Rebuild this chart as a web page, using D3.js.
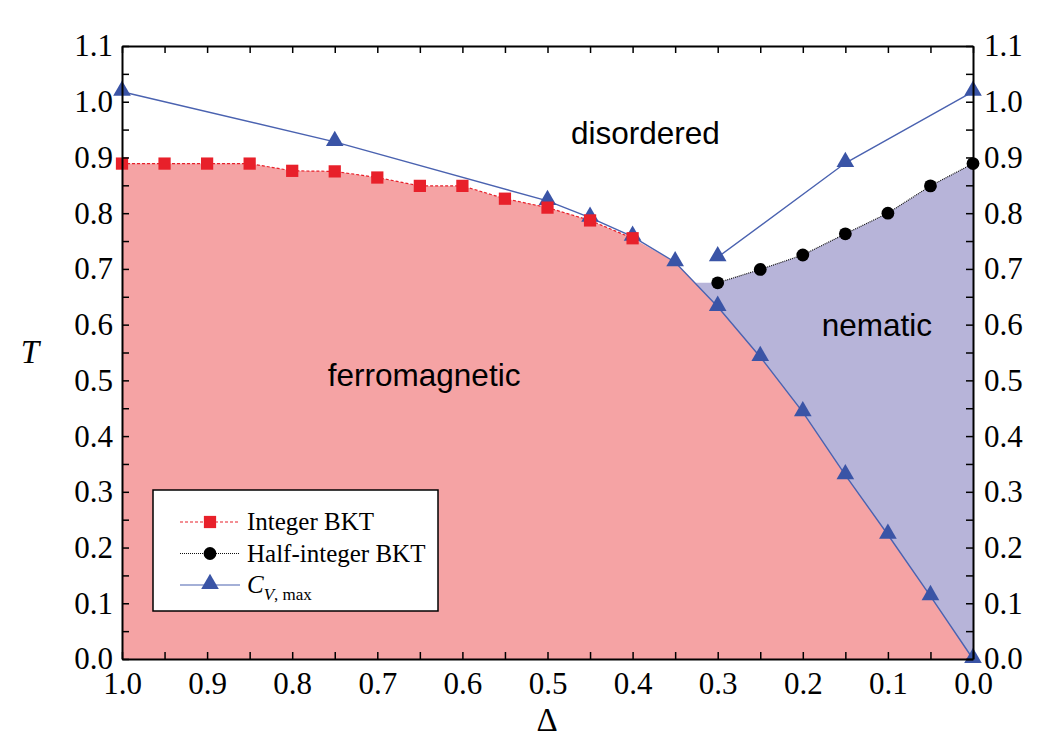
<!DOCTYPE html>
<html>
<head>
<meta charset="utf-8">
<script src="https://cdn.jsdelivr.net/npm/d3@7"></script>
<style>
body { margin: 0; background: #fff; }
</style>
</head>
<body>
<script>
var width = 1042,
    height = 746;

// data
var intDelta = [1.0, 0.95, 0.9, 0.85, 0.8, 0.75, 0.7, 0.65, 0.6, 0.55, 0.5, 0.45, 0.4];
var intT     = [0.889, 0.889, 0.889, 0.889, 0.876, 0.875, 0.864, 0.849, 0.849, 0.826, 0.810, 0.787, 0.755];

var halfDelta = [0.3, 0.25, 0.2, 0.15, 0.1, 0.05, 0.0];
var halfT     = [0.675, 0.699, 0.725, 0.763, 0.800, 0.849, 0.889];

var cvLowDelta = [1.0, 0.75, 0.5, 0.45, 0.4, 0.35, 0.3, 0.25, 0.2, 0.15, 0.1, 0.05, 0.0];
var cvLowT     = [1.018, 0.928, 0.822, 0.792, 0.758, 0.712, 0.632, 0.542, 0.443, 0.330, 0.223, 0.113, 0.0];

var cvHighDelta = [0.3, 0.15, 0.0];
var cvHighT     = [0.721, 0.890, 1.018];

var tickVals = d3.range(0, 23).map(function(i) { return +(i * 0.05).toFixed(2); });
var xTickVals = d3.range(0, 21).map(function(i) { return +(i * 0.05).toFixed(2); });

var regionLabels = [
  {text: "disordered", d: 0.385, t: 0.925},
  {text: "ferromagnetic", d: 0.645, t: 0.49},
  {text: "nematic", d: 0.113, t: 0.58}
];

function zip(a, b) { return a.map(function(v, i) { return [v, b[i]]; }); }

var svg = d3.select("body").append("svg")
    .attr("width", width)
    .attr("height", height);

var x = d3.scaleLinear().domain([1, 0]).range([122, 973]);
var y = d3.scaleLinear().domain([0, 1.1]).range([659, 46]);

var line = d3.line()
    .x(function(d) { return x(d[0]); })
    .y(function(d) { return y(d[1]); });

var intPts = zip(intDelta, intT),
    halfPts = zip(halfDelta, halfT),
    cvLow = zip(cvLowDelta, cvLowT),
    cvHigh = zip(cvHighDelta, cvHighT);

// ferromagnetic region: under integer BKT, then under the C_V lower branch
var redPoly = intPts.concat(cvLow.filter(function(d) { return d[0] < 0.4; }))
    .concat([[0, 0], [1, 0]]);

// nematic region: where the half-integer start level meets the C_V branch
var a = cvLow[5], b = cvLow[6];
var tCut = halfT[0];
var dCut = a[0] + (tCut - a[1]) / (b[1] - a[1]) * (b[0] - a[0]);
var bluePoly = [[dCut, tCut]].concat(halfPts)
    .concat(cvLow.filter(function(d) { return d[0] <= 0.3; }).reverse());

svg.append("path")
    .attr("d", line(redPoly) + "Z")
    .style("fill", "#f5a3a4");

svg.append("path")
    .attr("d", line(bluePoly) + "Z")
    .style("fill", "#b7b4d9");

// lines
svg.append("path").attr("d", line(intPts))
    .style("fill", "none").style("stroke", "#e8202a")
    .style("stroke-width", 1.2).style("stroke-dasharray", "3,2");

svg.append("path").attr("d", line(halfPts))
    .style("fill", "none").style("stroke", "#111")
    .style("stroke-width", 1.2).style("stroke-dasharray", "1,1");

svg.append("path").attr("d", line(cvLow))
    .style("fill", "none").style("stroke", "#4a62b0").style("stroke-width", 1.4);

svg.append("path").attr("d", line(cvHigh))
    .style("fill", "none").style("stroke", "#4a62b0").style("stroke-width", 1.4);

// markers
var tri = d3.symbol().type(d3.symbolTriangle).size(135);
var sq = d3.symbol().type(d3.symbolSquare).size(150);

svg.selectAll(".cv")
    .data(cvLow.concat(cvHigh))
    .enter().append("path")
    .attr("class", "cv")
    .attr("d", tri)
    .attr("transform", function(d) { return "translate(" + x(d[0]) + "," + (y(d[1]) - 1) + ")"; })
    .style("fill", "#3a54a6");

svg.selectAll(".intp")
    .data(intPts)
    .enter().append("path")
    .attr("class", "intp")
    .attr("d", sq)
    .attr("transform", function(d) { return "translate(" + x(d[0]) + "," + y(d[1]) + ")"; })
    .style("fill", "#e8202a");

svg.selectAll(".halfp")
    .data(halfPts)
    .enter().append("circle")
    .attr("class", "halfp")
    .attr("cx", function(d) { return x(d[0]); })
    .attr("cy", function(d) { return y(d[1]); })
    .attr("r", 6.4)
    .style("fill", "#000");

// axes (ticks inward)
var fmt = function(d) { return Math.round(d * 100) % 10 === 0 ? d.toFixed(1) : ""; };

var gB = svg.append("g").attr("transform", "translate(0,659)")
    .call(d3.axisBottom(x).tickValues(xTickVals).tickSizeInner(-7).tickSizeOuter(0).tickPadding(13).tickFormat(fmt));
var gT = svg.append("g").attr("transform", "translate(0,46)")
    .call(d3.axisTop(x).tickValues(xTickVals).tickSizeInner(-7).tickSizeOuter(0).tickFormat(""));
var gL = svg.append("g").attr("transform", "translate(122,0)")
    .call(d3.axisLeft(y).tickValues(tickVals).tickSizeInner(-7).tickSizeOuter(0).tickPadding(9).tickFormat(fmt));
var gR = svg.append("g").attr("transform", "translate(973,0)")
    .call(d3.axisRight(y).tickValues(tickVals).tickSizeInner(-7).tickSizeOuter(0).tickPadding(11).tickFormat(fmt));

[gB, gT, gL, gR].forEach(function(g) {
  g.select(".domain").style("stroke", "#000").style("stroke-width", 2);
  g.selectAll(".tick line").style("stroke", "#000").style("stroke-width", 1.5);
  g.selectAll("text")
    .style("font-family", "'Liberation Serif', 'Times New Roman', serif")
    .style("font-size", "31px")
    .style("fill", "#000");
});

// region labels
svg.selectAll(".region")
    .data(regionLabels)
    .enter().append("text")
    .attr("class", "region")
    .attr("x", function(d) { return x(d.d); })
    .attr("y", function(d) { return y(d.t); })
    .attr("text-anchor", "middle")
    .style("font-family", "'Liberation Sans', Arial, sans-serif")
    .style("font-size", "31.5px")
    .text(function(d) { return d.text; });

// axis titles
svg.append("text")
    .attr("x", 30).attr("y", 363)
    .attr("text-anchor", "middle")
    .style("font-family", "'Liberation Serif', serif")
    .style("font-style", "italic")
    .style("font-size", "33px")
    .text("T");

svg.append("text")
    .attr("x", 547).attr("y", 731)
    .attr("text-anchor", "middle")
    .style("font-family", "'Liberation Serif', serif")
    .style("font-size", "33px")
    .text("Δ");

// legend
var leg = svg.append("g").attr("transform", "translate(153,490)");
leg.append("rect")
    .attr("width", 285).attr("height", 121)
    .style("fill", "#fff").style("stroke", "#000").style("stroke-width", 1.5);

var legItems = [
  {label: "Integer BKT", color: "#e8202a", dash: "3,2", mark: "square"},
  {label: "Half-integer BKT", color: "#111", dash: "1,1", mark: "circle"},
  {label: "C", color: "#4a62b0", dash: null, mark: "triangle"}
];

legItems.forEach(function(it, i) {
  var ly = 32 + i * 31.5;
  leg.append("line")
      .attr("x1", 27).attr("x2", 87).attr("y1", ly).attr("y2", ly)
      .style("stroke", it.color).style("stroke-width", 1.2)
      .style("stroke-dasharray", it.dash);
  if (it.mark === "square") {
    leg.append("path").attr("d", sq).attr("transform", "translate(57," + ly + ")").style("fill", "#e8202a");
  } else if (it.mark === "circle") {
    leg.append("circle").attr("cx", 57).attr("cy", ly).attr("r", 6.4).style("fill", "#000");
  } else {
    leg.append("path").attr("d", tri).attr("transform", "translate(57," + (ly - 1) + ")").style("fill", "#3a54a6");
  }
  var t = leg.append("text")
      .attr("x", 94).attr("y", ly + 8)
      .style("font-family", "'Liberation Serif', serif")
      .style("font-size", "25px");
  if (it.mark === "triangle") {
    t.append("tspan").style("font-style", "italic").text("C");
    t.append("tspan").attr("dy", 7).style("font-size", "17px").style("font-style", "italic").text("V");
    t.append("tspan").style("font-size", "17px").text(", max");
  } else {
    t.text(it.label);
  }
});
</script>
</body>
</html>
